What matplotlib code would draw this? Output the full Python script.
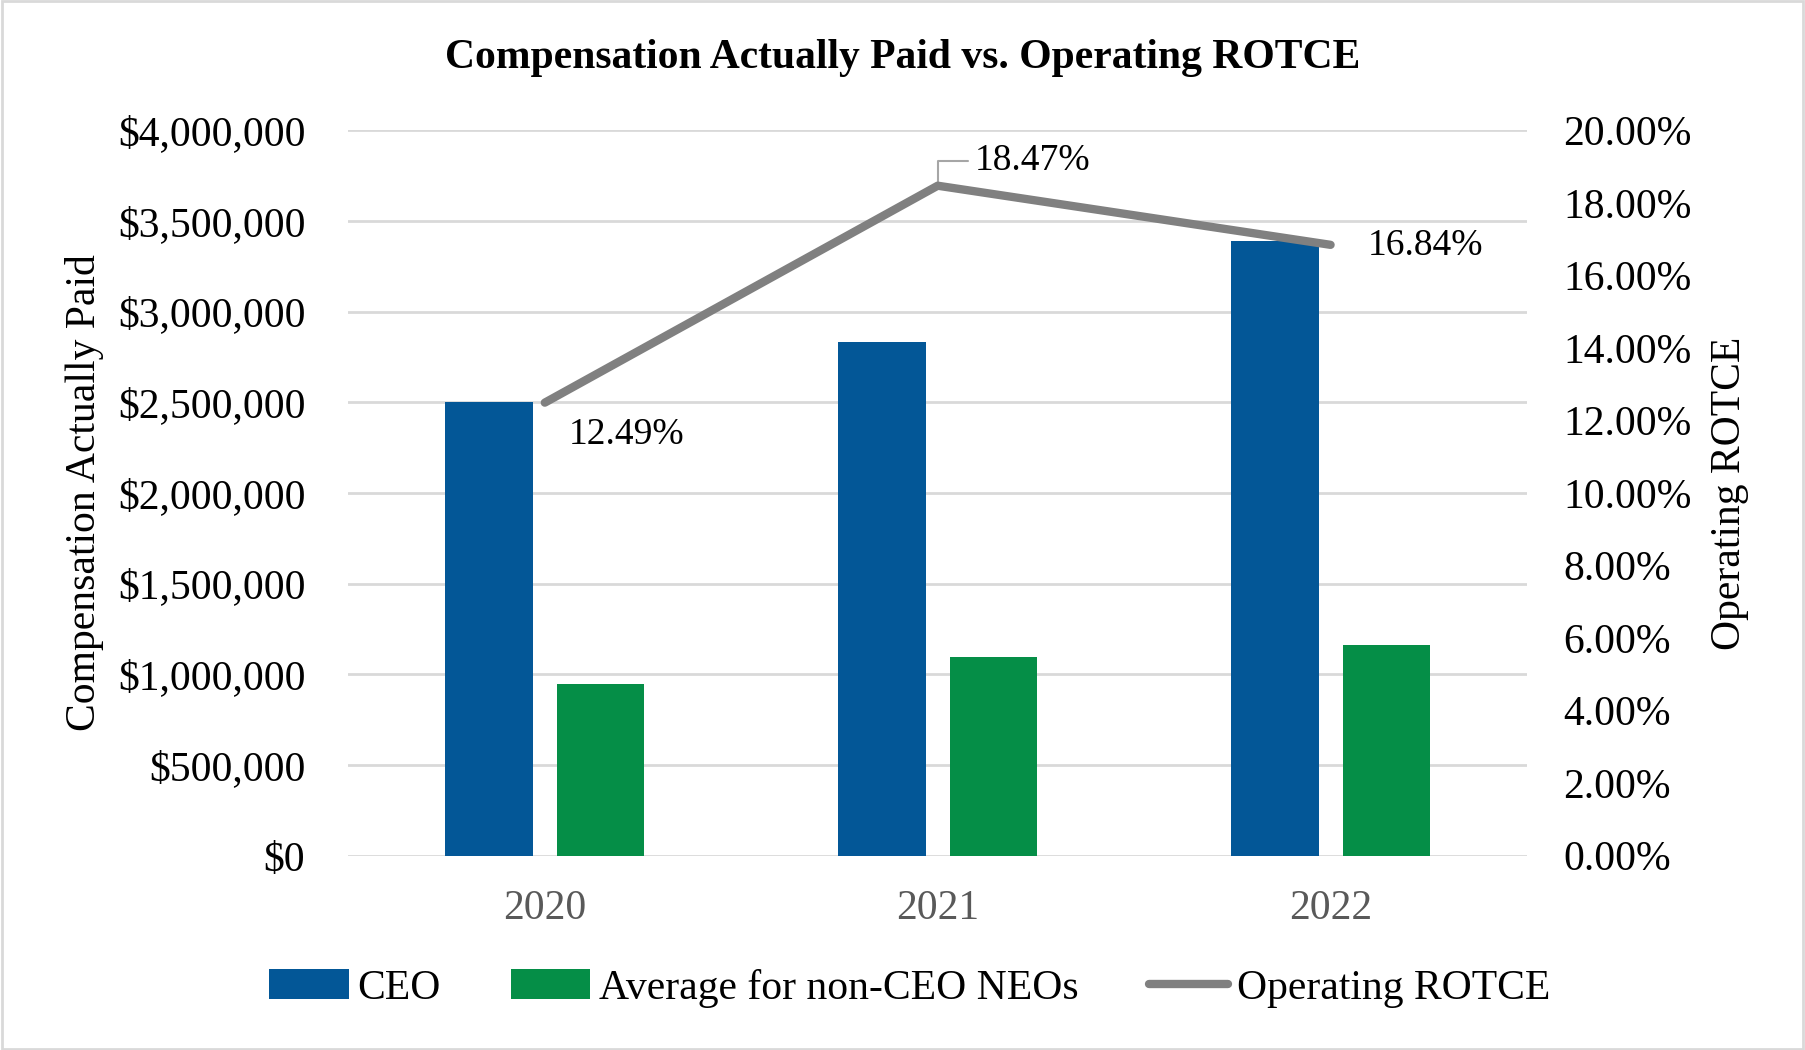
'''
Bar and line chart of compensation
actually paid against operating ROTCE
'''

import numpy as np
import matplotlib
matplotlib.use("Agg")
import matplotlib.pyplot as plt
from matplotlib.ticker import FuncFormatter


##################################

years = ["2020", "2021", "2022"]
ceoPaid = [2500000, 2832000, 3390000]
neoPaid = [946000, 1098000, 1162000]
rotce = [12.49, 18.47, 16.84]

ceoColour = "#035797"
neoColour = "#058E47"
lineColour = "#808080"
gridColour = "#D9D9D9"


##################################

def makeChart(outName):
  '''Draw the chart and write it out'''

  plt.rcParams['font.family'] = ['Liberation Serif', 'DejaVu Serif']

  fig = plt.figure(figsize=(18.05, 10.5), dpi=100)
  ax = fig.add_axes([0.193, 0.185, 0.653, 0.691])
  ax2 = ax.twinx()

  x = np.arange(len(years))
  width = 0.223
  off = 0.142

  # bars on the left axis
  b1 = ax.bar(x - off, ceoPaid, width, color=ceoColour, label="CEO", zorder=3)
  b2 = ax.bar(x + off, neoPaid, width, color=neoColour, label="Average for non-CEO NEOs", zorder=3)

  ax.set_ylim(0, 4000000)
  ax.set_yticks(np.arange(0, 4000001, 500000))
  ax.yaxis.set_major_formatter(FuncFormatter(lambda v, p: "${:,.0f}".format(v)))
  ax.set_xlim(-0.5, 2.5)
  ax.set_xticks(x)
  ax.set_xticklabels(years, color="#595959")
  ax.grid(axis="y", color=gridColour, linewidth=2, zorder=0)
  ax.tick_params(axis="both", length=0, labelsize=30)
  ax.tick_params(axis="x", pad=24)
  ax.tick_params(axis="y", pad=31)
  for s in ax.spines.values():
    s.set_visible(False)
  ax.set_ylabel("Compensation Actually Paid", fontsize=30, labelpad=10)

  # line on the right axis
  ln, = ax2.plot(x, rotce, color=lineColour, linewidth=6, solid_capstyle="round",
                 label="Operating ROTCE", zorder=4)
  ax2.set_ylim(0, 20)
  ax2.set_yticks(np.arange(0, 20.01, 2))
  ax2.yaxis.set_major_formatter(FuncFormatter(lambda v, p: "{:.2f}%".format(v)))
  ax2.tick_params(axis="y", length=0, labelsize=30, pad=26)
  for s in ax2.spines.values():
    s.set_visible(False)
  ax2.set_ylabel("Operating ROTCE", fontsize=30, labelpad=14)

  # data labels
  ax2.annotate("{:.2f}%".format(rotce[0]), (x[0], rotce[0]), xytext=(17, -23),
               textcoords="offset points", ha="left", va="center", fontsize=27)
  ax2.annotate("{:.2f}%".format(rotce[1]), (x[1], rotce[1]), xytext=(27, 18),
               textcoords="offset points", ha="left", va="center", fontsize=27,
               arrowprops=dict(arrowstyle="-", color="#A6A6A6", lw=1.5,
                               connectionstyle="angle,angleA=0,angleB=90,rad=0",
                               shrinkA=3, shrinkB=0))
  ax2.annotate("{:.2f}%".format(rotce[2]), (x[2], rotce[2]), xytext=(27, -1),
               textcoords="offset points", ha="left", va="center", fontsize=27)

  fig.suptitle("Compensation Actually Paid vs. Operating ROTCE", fontsize=30,
               fontweight="bold", y=0.945, va="center")

  fig.legend(handles=[b1, b2, ln], loc="center", bbox_to_anchor=(0.504, 0.059),
             ncol=3, frameon=False, fontsize=30, handlelength=1.9, handleheight=0.7,
             handletextpad=0.2, columnspacing=1.7)

  # light frame round the picture
  fig.patches.append(plt.Rectangle((0.001, 0.001), 0.998, 0.998, transform=fig.transFigure,
                                   fill=False, edgecolor="#D9D9D9", linewidth=2))

  fig.savefig(outName, dpi=100)
  plt.close(fig)
  print("Graph drawn to", outName)


##################################

if __name__ == "__main__":
  makeChart("out.png")
